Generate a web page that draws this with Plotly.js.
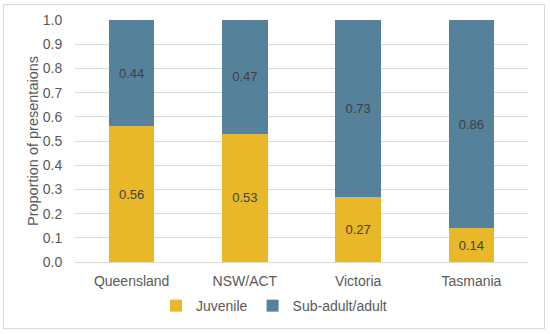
<!DOCTYPE html>
<html>
<head>
<meta charset="utf-8">
<script src="https://cdn.plot.ly/plotly-3.0.1.min.js"></script>
<style>
html,body{margin:0;padding:0;background:#fff;}
#wrap{position:absolute;left:3px;top:4px;width:540px;height:323px;border:1px solid #d9d9d9;}
#chart{width:540px;height:323px;}
</style>
</head>
<body>
<div id="wrap"><div id="chart"></div></div>
<script>
const categories = ["Queensland", "NSW/ACT", "Victoria", "Tasmania"];
const juvenile = [0.56, 0.53, 0.27, 0.14];
const subadult = [0.44, 0.47, 0.73, 0.86];
const tickVals = [0, 0.1, 0.2, 0.3, 0.4, 0.5, 0.6, 0.7, 0.8, 0.9, 1.0];
const tickText = ["0.0","0.1","0.2","0.3","0.4","0.5","0.6","0.7","0.8","0.9","1.0"];

const lbl = {family: "Liberation Sans, Arial, sans-serif", size: 13, color: "#404040"};
const traces = [
  {type: "bar", name: "Juvenile", x: categories, y: juvenile,
   marker: {color: "#E8B828"}, text: juvenile.map(v => v.toFixed(2)),
   textposition: "inside", insidetextanchor: "middle", textfont: lbl, hoverinfo: "none"},
  {type: "bar", name: "Sub-adult/adult", x: categories, y: subadult,
   marker: {color: "#55829A"}, text: subadult.map(v => v.toFixed(2)),
   textposition: "inside", insidetextanchor: "middle", textfont: lbl, hoverinfo: "none"}
];
const layout = {
  barmode: "stack", bargap: 0.6,
  width: 540, height: 323,
  margin: {l: 71, r: 16, t: 15, b: 66},
  paper_bgcolor: "#fff", plot_bgcolor: "#fff",
  font: {family: "Liberation Sans, Arial, sans-serif", size: 13, color: "#595959"},
  xaxis: {showgrid: false, showline: true, linecolor: "#d9d9d9", linewidth: 1,
          automargin: false,
          ticks: "outside", ticklen: 6, tickcolor: "rgba(0,0,0,0)",
          tickfont: {size: 14, color: "#595959"}},
  yaxis: {range: [0, 1.0], tickvals: tickVals, ticktext: tickText,
          automargin: false,
          showgrid: true, gridcolor: "#d9d9d9", gridwidth: 1, zeroline: false,
          showline: false, ticks: "outside", ticklen: 9, tickcolor: "rgba(0,0,0,0)",
          tickfont: {size: 14, color: "#595959"},
          title: {text: "Proportion of presentaions", font: {size: 14.5, color: "#595959"}, standoff: 0}},
  showlegend: true,
  legend: {orientation: "h", x: 0.5, xref: "container", xanchor: "center",
           y: 0.068, yref: "container", yanchor: "middle",
           font: {size: 14, color: "#595959"}, itemwidth: 30, traceorder: "normal"},
  uniformtext: {mode: "show", minsize: 13}
};
Plotly.newPlot("chart", traces, layout, {displayModeBar: false, staticPlot: true});
</script>
</body>
</html>
